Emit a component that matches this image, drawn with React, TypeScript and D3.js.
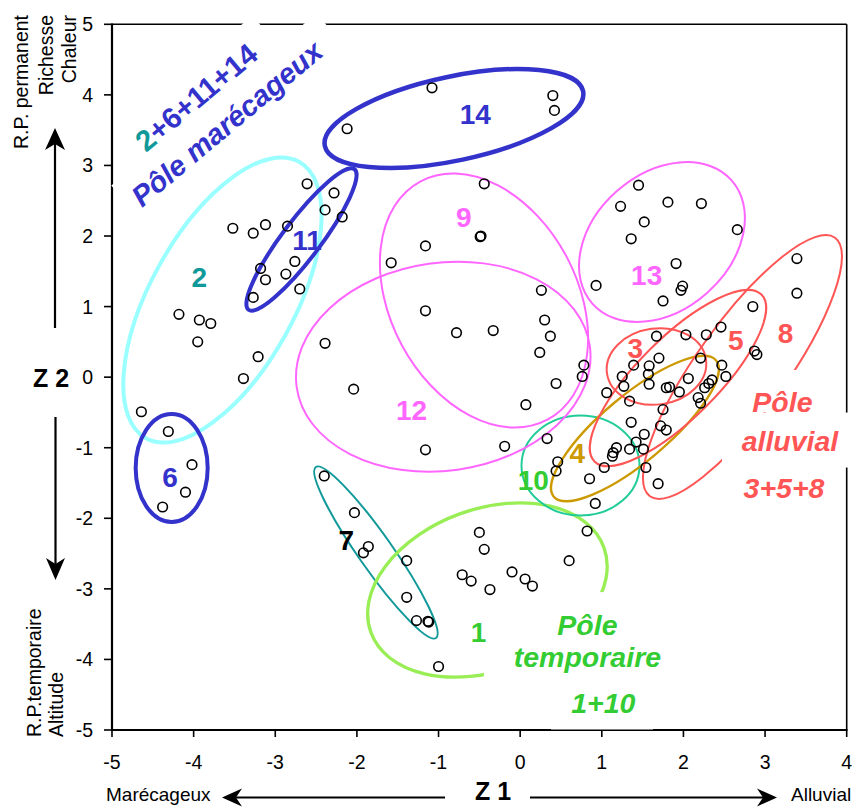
import React from "react";
import * as d3 from "d3";

const FONT = "'Liberation Sans', Arial, Helvetica, sans-serif";

// ---- axes ----
const xTickValues = [-5, -4, -3, -2, -1, 0, 1, 2, 3, 4];
const yTickValues = [-5, -4, -3, -2, -1, 0, 1, 2, 3, 4, 5];

// ---- relevés (Z1, Z2) ----
const releves: [number, number][] = [
  [-2.12, 3.52], [-1.08, 4.1], [0.4, 3.99], [0.42, 3.78],
  [-2.61, 2.74], [-2.28, 2.61], [-2.39, 2.37], [-2.18, 2.27],
  [-3.52, 2.11], [-3.27, 2.04], [-3.12, 2.16], [-2.85, 2.14],
  [-3.18, 1.54], [-2.76, 1.64], [-3.12, 1.38], [-2.87, 1.46],
  [-2.7, 1.25], [-3.27, 1.13], [-4.18, 0.89], [-3.93, 0.81],
  [-3.79, 0.76], [-3.95, 0.5], [-3.21, 0.29], [-3.39, -0.02],
  [-4.64, -0.49], [-4.31, -0.77], [-4.02, -1.24], [-4.1, -1.63], [-4.38, -1.84],
  [-0.44, 2.74], [-0.49, 1.99], [-0.48, 2.0], [-1.16, 1.86], [-1.58, 1.62],
  [-1.16, 0.94], [0.26, 1.23], [0.3, 0.81], [0.37, 0.58], [-0.78, 0.63],
  [-0.33, 0.66], [0.24, 0.35], [-2.39, 0.48], [0.78, 0.17], [0.76, 0.01],
  [0.44, -0.09], [-2.04, -0.17], [0.07, -0.39], [-1.16, -1.03], [-0.19, -0.98],
  [0.33, -0.87],
  [1.45, 2.72], [1.23, 2.42], [1.81, 2.48], [2.22, 2.46], [1.52, 2.2],
  [1.36, 1.96], [2.66, 2.09], [1.91, 1.61], [1.99, 1.29], [1.97, 1.23],
  [1.75, 1.08], [0.93, 1.3],
  [3.39, 1.68], [3.39, 1.19], [2.85, 1.0], [2.46, 0.71], [2.28, 0.6],
  [2.03, 0.6], [1.67, 0.58], [2.87, 0.37], [2.9, 0.32], [1.7, 0.27],
  [2.21, 0.27], [2.47, 0.17], [2.52, 0.01], [1.39, 0.17], [1.58, 0.16],
  [1.25, 0.01], [1.57, 0.04], [1.58, -0.1], [2.06, -0.02], [1.79, -0.15],
  [1.83, -0.14], [1.95, -0.21], [2.35, -0.04], [2.31, -0.09], [2.26, -0.15],
  [2.18, -0.29], [2.21, -0.37], [1.06, -0.22], [1.27, -0.13], [1.34, -0.34],
  [1.75, -0.46], [1.36, -0.64], [1.72, -0.69], [1.79, -0.75], [1.52, -0.81],
  [1.42, -0.92], [1.18, -1.0], [1.14, -1.07], [1.13, -1.12], [1.34, -1.02],
  [1.51, -1.02], [1.03, -1.28], [1.54, -1.28], [0.85, -1.44], [1.69, -1.51],
  [0.92, -1.79], [0.46, -1.2], [0.44, -1.33],
  [-2.4, -1.4], [-2.03, -1.92], [-1.86, -2.4], [-1.92, -2.49], [-1.39, -2.6],
  [-1.39, -3.12], [-1.27, -3.45], [-1.12, -3.47], [-1.13, -3.46], [-1.0, -4.1],
  [0.82, -2.18], [0.6, -2.6], [-0.5, -2.2], [-0.44, -2.44], [-0.71, -2.8],
  [-0.6, -2.89], [-0.37, -3.01], [-0.1, -2.76], [0.06, -2.86], [0.15, -2.96],
];

// ---- groupes (ellipses) ----
const zoneIds = ["2", "11", "14", "6", "7", "1", "10", "4", "3", "5", "8", "9", "12", "13"];
const zoneCenterZ1 = [-3.647, -2.679, -0.811, -4.269, -1.767, -0.401, 0.739, 1.406, 1.67, 1.933, 2.723, -0.443, -0.942, 1.737];
const zoneCenterZ2 = [1.093, 1.951, 3.665, -1.287, -2.485, -3.016, -1.252, -0.728, 0.151, -0.012, 0.144, 1.086, 0.148, 1.915];
const zoneLabelZ1 = [-3.93, -2.61, -0.55, -4.29, -2.13, -0.51, 0.16, 0.7, 1.41, 2.64, 3.25, -0.69, -1.33, 1.55];
const zoneLabelZ2 = [1.28, 1.8, 3.59, -1.56, -2.45, -3.75, -1.6, -1.21, 0.27, 0.38, 0.48, 2.13, -0.61, 1.31];

const zoneShape: Record<string, { rx: number; ry: number; rot: number; color: string; w: number; label: string }> = {
  "2": { rx: 158, ry: 72, rot: -61, color: "#99ffff", w: 4, label: "#119999" },
  "11": { rx: 88, ry: 19, rot: -53, color: "#3333cc", w: 4, label: "#3333cc" },
  "14": { rx: 132, ry: 42, rot: -12, color: "#3333cc", w: 4.5, label: "#3333cc" },
  "6": { rx: 36, ry: 54, rot: 0, color: "#3333cc", w: 4, label: "#3333cc" },
  "7": { rx: 104.5, ry: 17, rot: 54.9, color: "#119999", w: 2, label: "#000000" },
  "1": { rx: 124, ry: 81, rot: -20, color: "#99ee55", w: 3.3, label: "#33cc33" },
  "10": { rx: 59, ry: 50, rot: 0, color: "#22cc99", w: 2, label: "#33cc33" },
  "4": { rx: 106, ry: 33, rot: -40, color: "#cc9900", w: 2.3, label: "#cc9900" },
  "3": { rx: 50, ry: 38, rot: -8, color: "#ff5555", w: 2, label: "#ff5555" },
  "5": { rx: 118, ry: 40, rot: -45, color: "#ff5555", w: 2, label: "#ff5555" },
  "8": { rx: 159, ry: 45, rot: -54.4, color: "#ff5555", w: 2, label: "#ff5555" },
  "9": { rx: 135, ry: 93.5, rot: 62, color: "#ff66ff", w: 2, label: "#ff66ff" },
  "12": { rx: 148, ry: 104, rot: -8, color: "#ff66ff", w: 2, label: "#ff66ff" },
  "13": { rx: 93, ry: 68, rot: -41.5, color: "#ff66ff", w: 2, label: "#ff66ff" },
};

// ---- pôles (text blocks) ----
const poleTemporaire = ["Pôle", "temporaire", "1+10"];
const poleTemporaireZ1 = [0.824, 0.824, 1.018];
const poleTemporaireZ2 = [-3.655, -4.108, -4.759];
const poleAlluvial = ["Pôle", "alluvial", "3+5+8"];
const poleAlluvialZ1 = [3.213, 3.305, 3.232];
const poleAlluvialZ2 = [-0.49, -1.04, -1.712];

// white background boxes of each text line (offsets relative to the text anchor, px)
const temporaireBoxes = [
  [-47, 53, -43, 7],
  [-103.5, 102.5, -25, 23],
  [-52.3, 49.7, -23, 16.5],
];
const alluvialBoxes = [
  [-34.5, 47.5, -41.7, 0.3],
  [-68, 62, -38, 17],
  [-49, 51, -31, 12],
];

const W = 856;
const H = 808;

function arrowHead(tx: number, ty: number, dir: "up" | "down" | "left" | "right", len = 20, half = 9, notch = 6) {
  const pts: [number, number][] = [
    [0, 0],
    [-len, -half],
    [-len + notch, 0],
    [-len, half],
  ];
  const rot = { right: 0, left: 180, down: 90, up: -90 }[dir] * (Math.PI / 180);
  const c = Math.cos(rot);
  const s = Math.sin(rot);
  const p = pts.map(([x, y]) => [tx + x * c - y * s, ty + x * s + y * c]);
  return `M${p[0][0]},${p[0][1]}L${p[1][0]},${p[1][1]}L${p[2][0]},${p[2][1]}L${p[3][0]},${p[3][1]}Z`;
}

export default function App() {
  const x = d3.scaleLinear().domain([-5, 4]).range([112, 846.7]);
  const y = d3.scaleLinear().domain([-5, 5]).range([730, 24.3]);
  const x0 = x(-5);
  const x1 = x(4);
  const y0 = y(-5);
  const y1 = y(5);

  const axisColor = "#000";

  // rotated title boxes
  const rotA = -40;
  const startA = { x: 146, y: 153 };
  const startB = { x: 142, y: 208 };

  return (
    <svg
      width={W}
      height={H}
      viewBox={`0 0 ${W} ${H}`}
      style={{ position: "absolute", left: 0, top: 0, background: "#fff" }}
      fontFamily={FONT}
    >
      <rect x={0} y={0} width={W} height={H} fill="#fff" />

      {/* frame */}
      <line x1={x0} x2={x1} y1={y1} y2={y1} stroke={axisColor} strokeWidth={1.6} />
      <line x1={x1} x2={x1} y1={y1} y2={y0} stroke={axisColor} strokeWidth={1.6} />
      <line x1={x0} x2={x0} y1={y1 - 0.8} y2={y0 + 1} stroke={axisColor} strokeWidth={2.2} />
      <line x1={x0 - 1} x2={x1 + 0.8} y1={y0} y2={y0} stroke={axisColor} strokeWidth={2.2} />

      {/* ellipses */}
      {zoneIds.map((id, i) => {
        const sh = zoneShape[id];
        const cx = x(zoneCenterZ1[i]);
        const cy = y(zoneCenterZ2[i]);
        return (
          <ellipse
            key={"e" + id}
            cx={0}
            cy={0}
            rx={sh.rx}
            ry={sh.ry}
            transform={`translate(${cx},${cy}) rotate(${sh.rot})`}
            fill="none"
            stroke={sh.color}
            strokeWidth={sh.w}
          />
        );
      })}

      {/* points */}
      {releves.map(([a, b], i) => (
        <circle key={"p" + i} cx={x(a)} cy={y(b)} r={4.8} fill="none" stroke="#000" strokeWidth={1.6} />
      ))}

      {/* white boxes behind annotations */}
      <g transform={`translate(${startA.x},${startA.y}) rotate(${rotA})`}>
        <rect x={-10} y={-37} width={180} height={47} fill="#fff" />
      </g>
      <g transform={`translate(${startB.x},${startB.y}) rotate(${rotA})`}>
        <rect x={-9} y={-37} width={268} height={49} fill="#fff" />
      </g>
      {poleTemporaire.map((t, i) => {
        const bx = x(poleTemporaireZ1[i]);
        const by = y(poleTemporaireZ2[i]);
        const [a, b, c, d] = temporaireBoxes[i];
        return <rect key={"tb" + i} x={bx + a} y={by + c} width={b - a} height={d - c} fill="#fff" />;
      })}
      {poleAlluvial.map((t, i) => {
        const bx = x(poleAlluvialZ1[i]);
        const by = y(poleAlluvialZ2[i]);
        const [a, b, c, d] = alluvialBoxes[i];
        return <rect key={"ab" + i} x={bx + a} y={by + c} width={b - a} height={d - c} fill="#fff" />;
      })}

      {/* ticks */}
      {xTickValues.map((v) => (
        <line key={"xt" + v} x1={x(v)} x2={x(v)} y1={y0} y2={y0 + 7} stroke={axisColor} strokeWidth={1.6} />
      ))}
      {yTickValues.map((v) => (
        <line key={"yt" + v} x1={x0 - 8} x2={x0} y1={y(v)} y2={y(v)} stroke={axisColor} strokeWidth={1.6} />
      ))}
      {xTickValues.map((v) => (
        <text key={"xl" + v} x={x(v)} y={y0 + 39} fontSize={19.5} textAnchor="middle" fill="#000">
          {v}
        </text>
      ))}
      {yTickValues.map((v) => (
        <text key={"yl" + v} x={x0 - 19} y={y(v) + 7} fontSize={19.5} textAnchor="end" fill="#000">
          {v}
        </text>
      ))}

      {/* zone labels */}
      {zoneIds.map((id, i) => (
        <text
          key={"l" + id}
          x={x(zoneLabelZ1[i])}
          y={y(zoneLabelZ2[i])}
          fontSize={28}
          fontWeight="bold"
          textAnchor="middle"
          fill={zoneShape[id].label}
        >
          {id}
        </text>
      ))}

      {/* pôle texts */}
      {poleTemporaire.map((t, i) => (
        <text
          key={"pt" + i}
          x={x(poleTemporaireZ1[i])}
          y={y(poleTemporaireZ2[i])}
          fontSize={28.5}
          fontWeight="bold"
          fontStyle="italic"
          textAnchor="middle"
          fill="#33cc33"
        >
          {t}
        </text>
      ))}
      {poleAlluvial.map((t, i) => (
        <text
          key={"pa" + i}
          x={x(poleAlluvialZ1[i])}
          y={y(poleAlluvialZ2[i])}
          fontSize={28.5}
          fontWeight="bold"
          fontStyle="italic"
          textAnchor="middle"
          fill="#ff5555"
        >
          {t}
        </text>
      ))}
      <text
        transform={`translate(${startA.x},${startA.y}) rotate(${rotA})`}
        fontSize={29.5}
        fontWeight="bold"
        fill="#3333cc"
      >
        <tspan fill="#119999">2</tspan>
        <tspan>+6+11+14</tspan>
      </text>
      <text
        transform={`translate(${startB.x},${startB.y}) rotate(${rotA})`}
        fontSize={29}
        fontWeight="bold"
        fontStyle="italic"
        fill="#3333cc"
      >
        Pôle marécageux
      </text>

      {/* axis titles */}
      <text x={33} y={387} fontSize={25} fontWeight="bold" fill="#000">
        Z 2
      </text>
      <text x={475} y={800} fontSize={25} fontWeight="bold" fill="#000">
        Z 1
      </text>
      <text x={106} y={801} fontSize={19} fill="#000">
        Marécageux
      </text>
      <text x={791} y={801} fontSize={19} fill="#000">
        Alluvial
      </text>

      <text transform="translate(28,15) rotate(-90)" fontSize={19.5} textAnchor="end" fill="#000">
        R.P. permanent
      </text>
      <text transform="translate(52.5,15) rotate(-90)" fontSize={19.5} textAnchor="end" fill="#000">
        Richesse
      </text>
      <text transform="translate(76,15) rotate(-90)" fontSize={19.5} textAnchor="end" fill="#000">
        Chaleur
      </text>
      <text transform="translate(41,737) rotate(-90)" fontSize={19.5} fill="#000">
        R.P.temporaire
      </text>
      <text transform="translate(63,737) rotate(-90)" fontSize={19.5} fill="#000">
        Altitude
      </text>

      {/* arrows */}
      <line x1={55} x2={55} y1={328} y2={140} stroke="#000" strokeWidth={2.2} />
      <path d={arrowHead(55, 128, "up", 22, 10, 6)} fill="#000" />
      <line x1={55.5} x2={55.5} y1={417} y2={568} stroke="#000" strokeWidth={2.2} />
      <path d={arrowHead(55.5, 580, "down", 22, 9.5, 6)} fill="#000" />
      <line x1={232} x2={445} y1={797.5} y2={797.5} stroke="#000" strokeWidth={2.2} />
      <path d={arrowHead(222, 797.5, "left", 20, 9, 6)} fill="#000" />
      <line x1={530} x2={767} y1={797.5} y2={797.5} stroke="#000" strokeWidth={2.2} />
      <path d={arrowHead(777, 797.5, "right", 20, 9, 6)} fill="#000" />
    </svg>
  );
}
